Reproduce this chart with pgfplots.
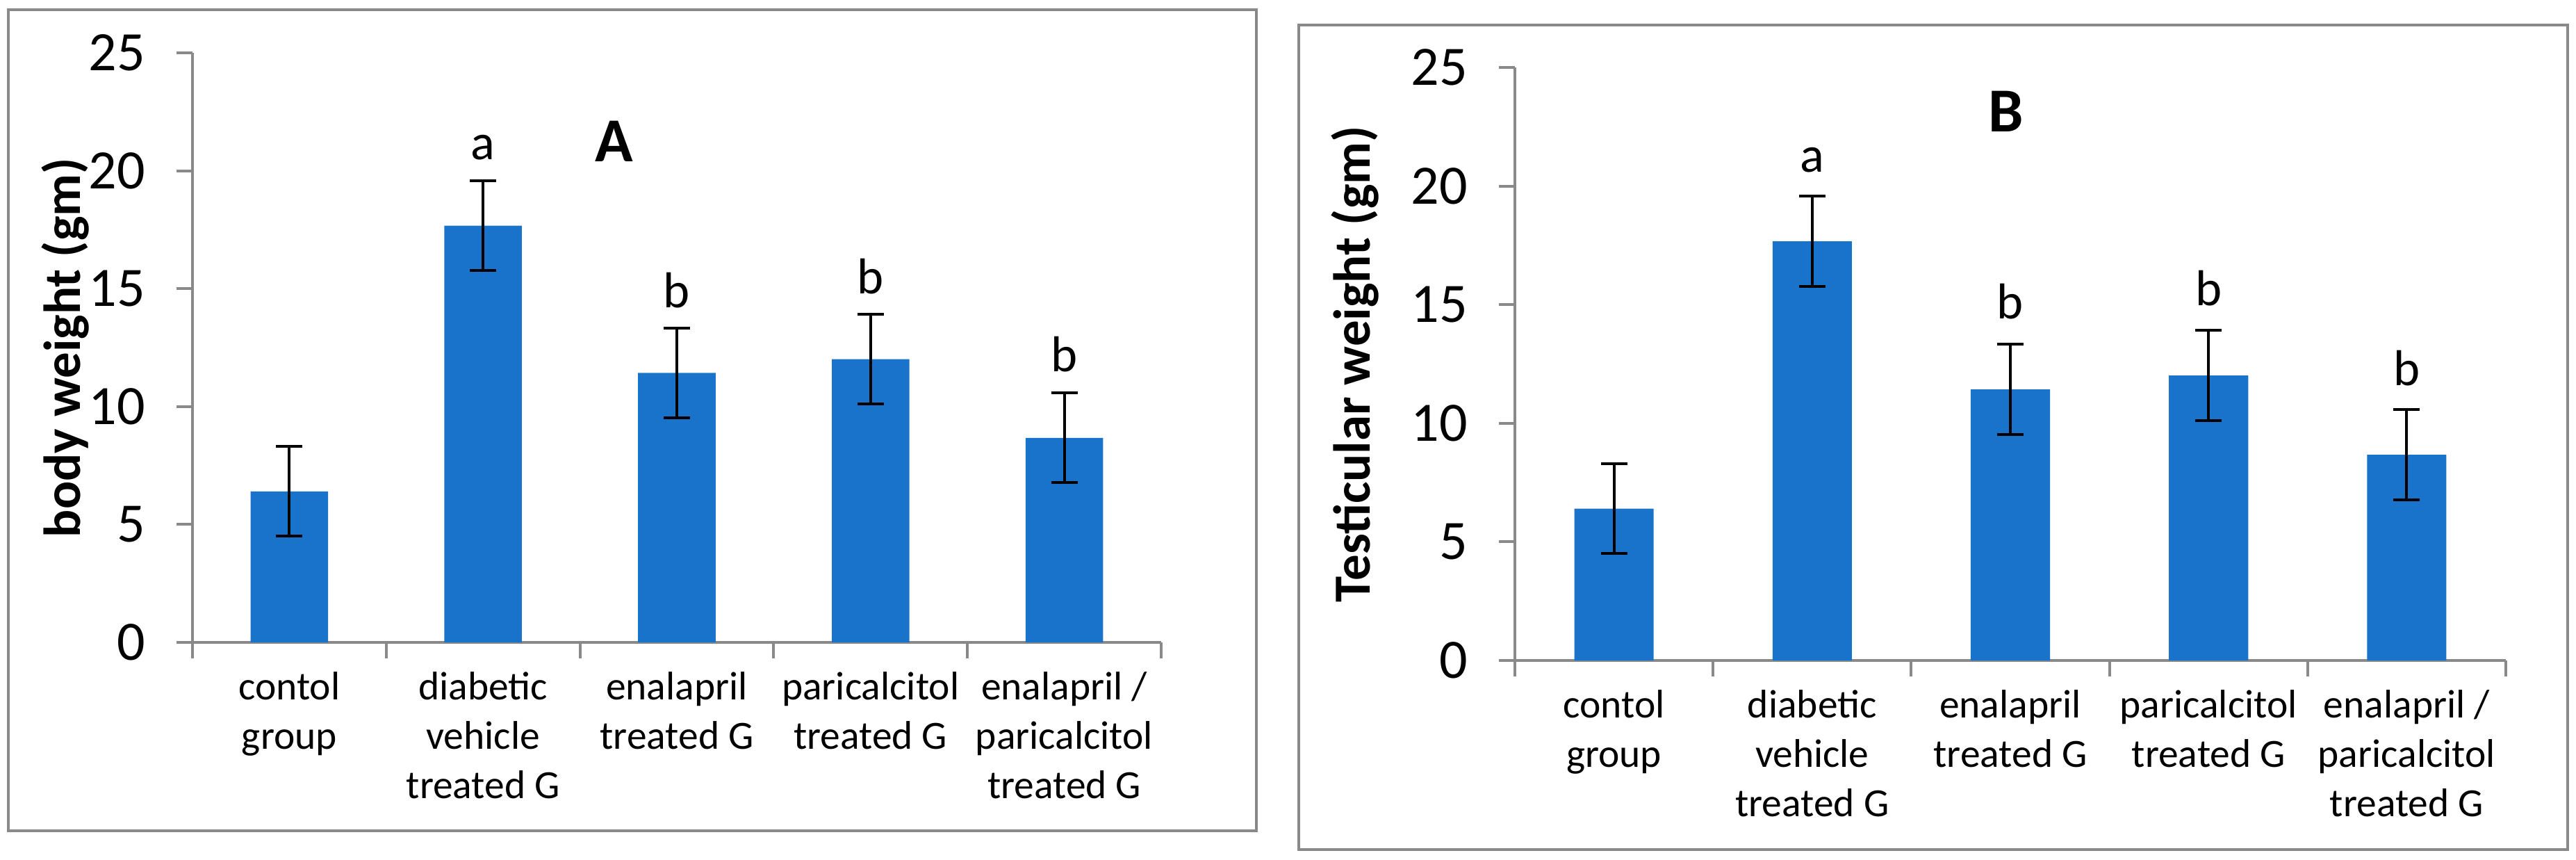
\documentclass[border=0pt]{standalone}
\usepackage{pgfplots}
\pgfplotsset{compat=1.18}
\usepackage{pgfplotstable}
\usepackage{fontspec}
\setmainfont{Carlito}

\definecolor{barblue}{RGB}{26,115,202}
\definecolor{axgray}{RGB}{137,137,137}

% mean and error for each group
\pgfplotstableread{
x y err
0 6.40 1.9
1 17.67 1.9
2 11.43 1.9
3 12.01 1.9
4 8.67 1.9
}\bodydata

\pgfplotstableread{
x y err
0 6.40 1.9
1 17.67 1.9
2 11.43 1.9
3 12.01 1.9
4 8.67 1.9
}\testisdata

\pgfplotsset{
  panel/.style={
    scale only axis,
    ybar, bar width=0.4,
    xmin=-0.5, xmax=4.5,
    ymin=0, ymax=25, ytick={0,5,...,25},
    axis x line*=bottom, axis y line*=left,
    axis line style={-, axgray, line width=0.8pt},
    tick style={axgray, line width=0.8pt},
    tick align=outside, major tick length=4.6pt,
    xtick={-0.5,0.5,...,4.5}, xticklabels={},
    extra x ticks={0,1,2,3,4},
    extra x tick labels={{contol\\group},{diabetic\\vehicle\\treated G},{enalapril\\treated G},{paricalcitol\\treated G},{enalapril /\\paricalcitol\\treated G}},
    extra x tick style={major tick length=0pt},
    xticklabel style={align=center, font=\fontsize{11.5}{14.2}\selectfont, yshift=-5pt},
    yticklabel style={font=\fontsize{16}{19}\selectfont, xshift=-5.5pt},
    /pgf/number format/assume math mode=true,
    tick label style={black},
    ylabel style={font=\bfseries\fontsize{15}{18}\selectfont, anchor=center},
    after end axis/.code={
      \draw[axgray, line width=0.8pt] (rel axis cs:0,0) -- ++(-4.6pt,0);},
  },
  bars/.style={fill=barblue, draw=none,
    error bars/.cd, y dir=both, y explicit,
    error bar style={black, line width=0.8pt},
    error mark options={rotate=90, mark size=3.8pt, black, line width=0.8pt}},
}
\tikzset{
  letter/.style={anchor=base, font=\fontsize{14.5}{17}\selectfont},
  panelname/.style={anchor=center, font=\bfseries\fontsize{18}{21}\selectfont},
}

\begin{document}
\begin{tikzpicture}
\path[use as bounding box] (0,0) rectangle (741.4pt,247.2pt);
\draw[axgray, line width=0.7pt] (2.4pt,8.2pt) rectangle (361.6pt,244.4pt);
\draw[axgray, line width=0.7pt] (373.8pt,2.8pt) rectangle (739pt,240pt);

\begin{axis}[panel, at={(55.4pt,62.4pt)}, anchor=south west,
  width=278.8pt, height=169.6pt,
  ylabel={body weight (gm)},
  ylabel style={at={(axis description cs:-0.1316,0.5)}}]
\addplot[bars] table[x=x, y=y, y error=err] {\bodydata};
\node[panelname] at (axis cs:1.677,21.26) {A};
\node[letter] at (axis cs:1,20.47) {a};
\node[letter] at (axis cs:2,14.2) {b};
\node[letter] at (axis cs:3,14.8) {b};
\node[letter] at (axis cs:4,11.47) {b};
\end{axis}

\begin{axis}[panel, at={(436pt,57.2pt)}, anchor=south west,
  width=285.2pt, height=170.6pt,
  ylabel={Testicular weight (gm)},
  ylabel style={at={(axis description cs:-0.161,0.5)}}]
\addplot[bars] table[x=x, y=y, y error=err] {\testisdata};
\node[panelname] at (axis cs:1.979,23.15) {B};
\node[letter] at (axis cs:1,20.6) {a};
\node[letter] at (axis cs:2,14.4) {b};
\node[letter] at (axis cs:3,14.95) {b};
\node[letter] at (axis cs:4,11.6) {b};
\end{axis}
\end{tikzpicture}
\end{document}
